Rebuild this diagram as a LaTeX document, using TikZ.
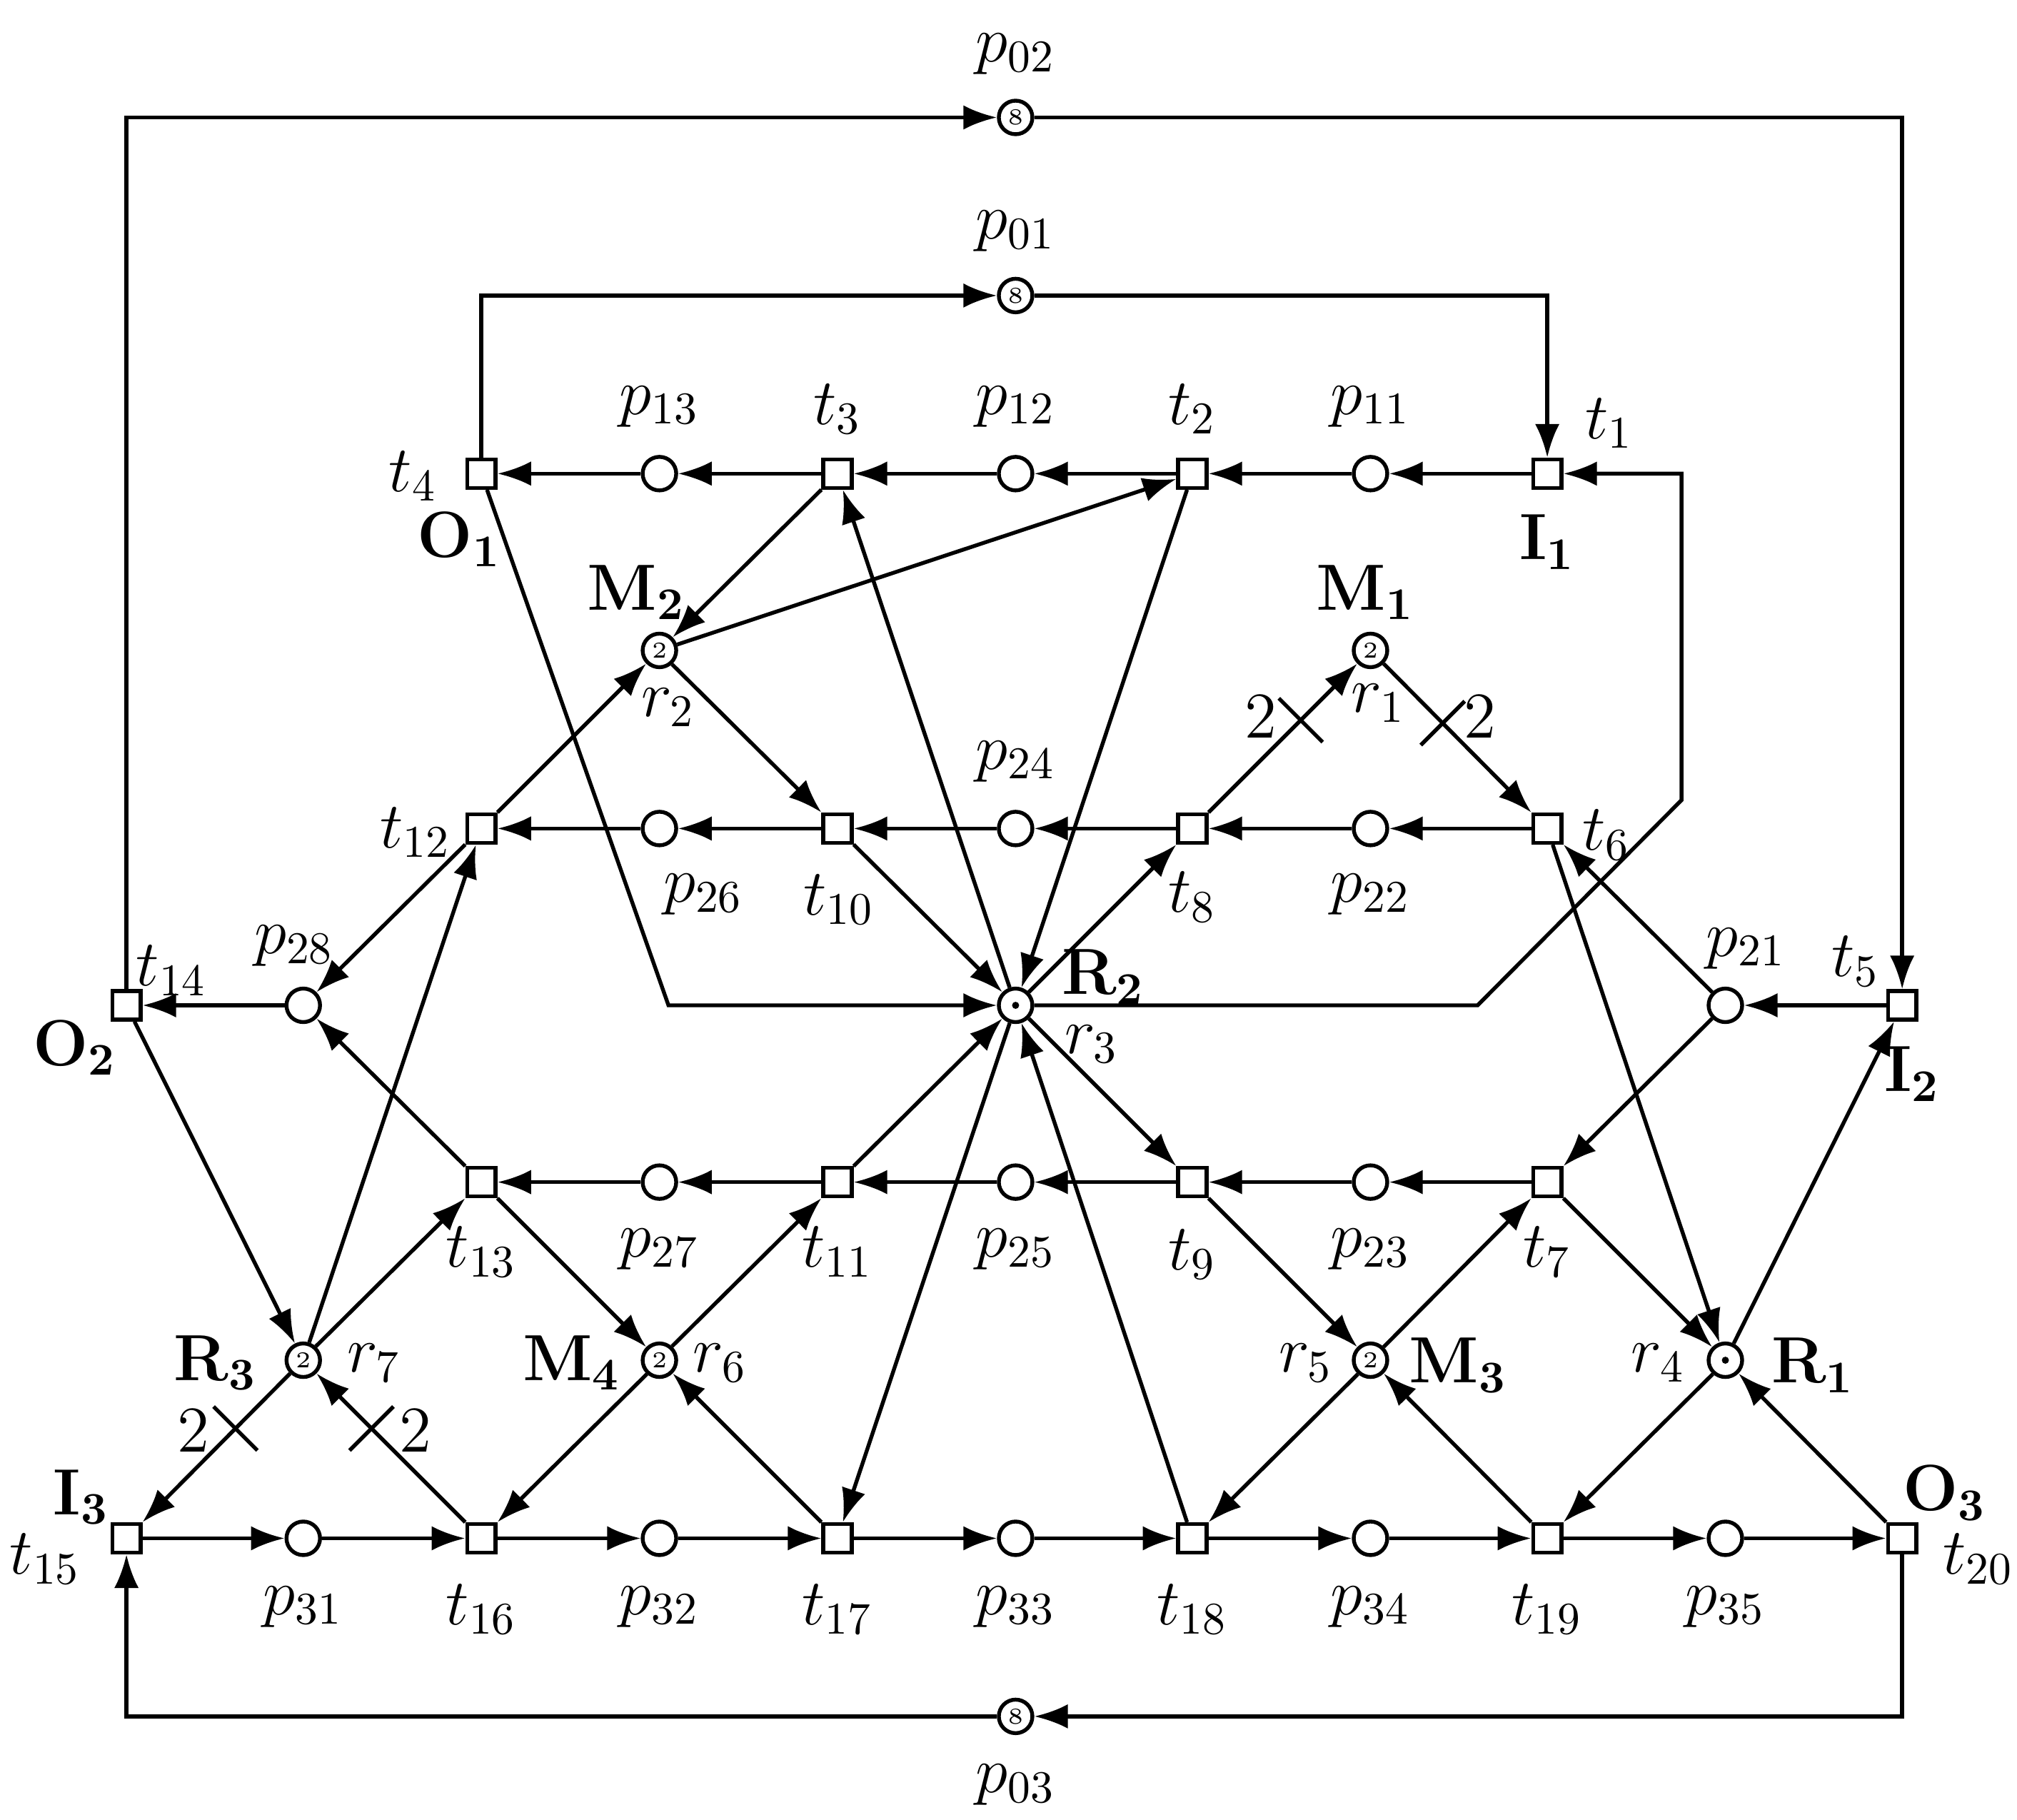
\documentclass[tikz,border=0pt]{standalone}
\usetikzlibrary{arrows.meta}
\begin{document}
\begin{tikzpicture}[x=0.1mm,y=-0.1mm,line width=0.85pt,font=\Large,
 pl/.style={circle,draw,fill=white,minimum size=2.6mm,inner sep=0},
 tr/.style={rectangle,draw,fill=white,minimum size=2.2mm,inner sep=0},
 tok/.style={inner sep=0,font=\fontsize{5}{5}\selectfont},
 dot/.style={circle,fill,inner sep=0,minimum size=0.55mm},
 ar/.style={-{Latex[length=2.6mm,width=1.9mm]}}]
\useasboundingbox (0,0) rectangle (1563,1410);
% places
\foreach \n/\x/\y in {p13/511/367,p12/787/367,p11/1062/367,
 p26/511/642,p24/787/642,p22/1062/642,p28/235/779,p21/1337/779,
 p27/511/916,p25/787/916,p23/1062/916,
 p31/235/1192,p32/511/1192,p33/787/1192,p34/1062/1192,p35/1337/1192}
 \node[pl] (\n) at (\x,\y) {};
\foreach \n/\x/\y/\k in {p01/787/229/8,p02/787/91/8,p03/787/1330/8,
 M2/511/504/2,M1/1062/504/2,R3/235/1054/2,M4/511/1054/2,M3/1062/1054/2}
 {\node[pl] (\n) at (\x,\y) {}; \node[tok] at (\x,\y) {\k};}
\foreach \n/\x/\y in {R2/787/779,R1/1337/1054}
 {\node[pl] (\n) at (\x,\y) {}; \node[dot] at (\x,\y) {};}
% transitions
\foreach \n/\x/\y in {t4/373/367,t3/649/367,t2/924/367,t1/1199/367,
 t12/373/642,t10/649/642,t8/924/642,t6/1199/642,t14/98/779,t5/1474/779,
 t13/373/916,t11/649/916,t9/924/916,t7/1199/916,
 t15/98/1192,t16/373/1192,t17/649/1192,t18/924/1192,t19/1199/1192,t20/1474/1192}
 \node[tr] (\n) at (\x,\y) {};
% outer loops
\coordinate (a1) at (98,91); \coordinate (a2) at (1474,91);
\draw[ar] (t14) -- (a1) -- (p02);
\draw[ar] (p02) -- (a2) -- (t5);
\coordinate (b1) at (373,229); \coordinate (b2) at (1199,229);
\draw[ar] (t4) -- (b1) -- (p01);
\draw[ar] (p01) -- (b2) -- (t1);
\coordinate (c1) at (1474,1330); \coordinate (c2) at (98,1330);
\draw[ar] (t20) -- (c1) -- (p03);
\draw[ar] (p03) -- (c2) -- (t15);
% rows
\foreach \a/\b in {t1/p11,p11/t2,t2/p12,p12/t3,t3/p13,p13/t4,
 t6/p22,p22/t8,t8/p24,p24/t10,t10/p26,p26/t12,
 t7/p23,p23/t9,t9/p25,p25/t11,t11/p27,p27/t13,
 t15/p31,p31/t16,t16/p32,p32/t17,t17/p33,p33/t18,t18/p34,p34/t19,t19/p35,p35/t20,
 t5/p21,p28/t14}
 \draw[ar] (\a) -- (\b);
% diagonals
\foreach \a/\b in {t3/M2,M2/t2,t2/R2,R2/t3,M2/t10,t12/M2,t10/R2,R2/t8,
 t6/R1,p21/t6,t12/p28,t14/R3,R3/t12,p21/t7,t13/p28,R3/t13,t13/M4,M4/t11,
 t11/R2,R2/t9,t9/M3,M3/t7,t7/R1,R1/t5,R2/t17,t18/R2,M4/t16,t17/M4,M3/t18,
 t19/M3,R1/t19,t20/R1}
 \draw[ar] (\a) -- (\b);
\draw[ar] (t8) -- (M1) coordinate[pos=.62] (x1);
\draw[ar] (M1) -- (t6) coordinate[pos=.4] (x2);
\draw[ar] (R3) -- (t15) coordinate[pos=.37] (x3);
\draw[ar] (t16) -- (R3) coordinate[pos=.63] (x4);
\draw (x1)+(-17,-17) -- +(17,17); \draw (x2)+(-17,17) -- +(17,-17);
\draw (x3)+(-17,-17) -- +(17,17); \draw (x4)+(-17,17) -- +(17,-17);
\node at (977,555) {2}; \node at (1147,555) {2};
\node at (150,1108) {2}; \node at (322,1108) {2};
% bent arcs
\coordinate (d1) at (518,779);
\draw[ar] (t4) -- (d1) -- (R2);
\coordinate (e1) at (1145,779); \coordinate (e2) at (1303,620); \coordinate (e3) at (1303,367);
\draw[ar] (R2) -- (e1) -- (e2) -- (e3) -- (t1);
% labels
\foreach \x/\y/\t in {787/42/p_{02},787/179/p_{01},787/1383/p_{03},
 511/315/p_{13},649/317/t_3,787/315/p_{12},924/317/t_2,1062/315/p_{11},1247/328/t_1,320/369/t_4,
 518/548/r_2,1068/545/r_1,787/590/p_{24},322/645/t_{12},545/693/p_{26},650/697/t_{10},
 924/695/t_8,1062/693/p_{22},1245/647/t_6,133/752/t_{14},228/733/p_{28},846/809/r_3,
 1353/735/p_{21},1438/745/t_5,373/970/t_{13},511/968/p_{27},649/970/t_{11},787/968/p_{25},
 924/972/t_9,1062/968/p_{23},1199/970/t_7,290/1056/r_7,558/1056/r_6,1012/1056/r_5,1285/1056/r_4,
 35/1208/t_{15},1533/1208/t_{20},235/1245/p_{31},373/1247/t_{16},511/1245/p_{32},649/1247/t_{17},
 787/1245/p_{33},924/1247/t_{18},1062/1245/p_{34},1199/1247/t_{19},1337/1245/p_{35}}
 \node at (\x,\y) {$\t$};
\foreach \x/\y/\t in {1199/420/I_1,356/418/O_1,493/459/M_2,1058/459/M_1,855/757/R_2,
 58/812/O_2,1482/832/I_2,167/1056/R_3,443/1056/M_4,1130/1058/M_3,1405/1058/R_1,
 63/1160/I_3,1507/1157/O_3}
 \node at (\x,\y) {$\mathbf{\t}$};
\end{tikzpicture}
\end{document}
